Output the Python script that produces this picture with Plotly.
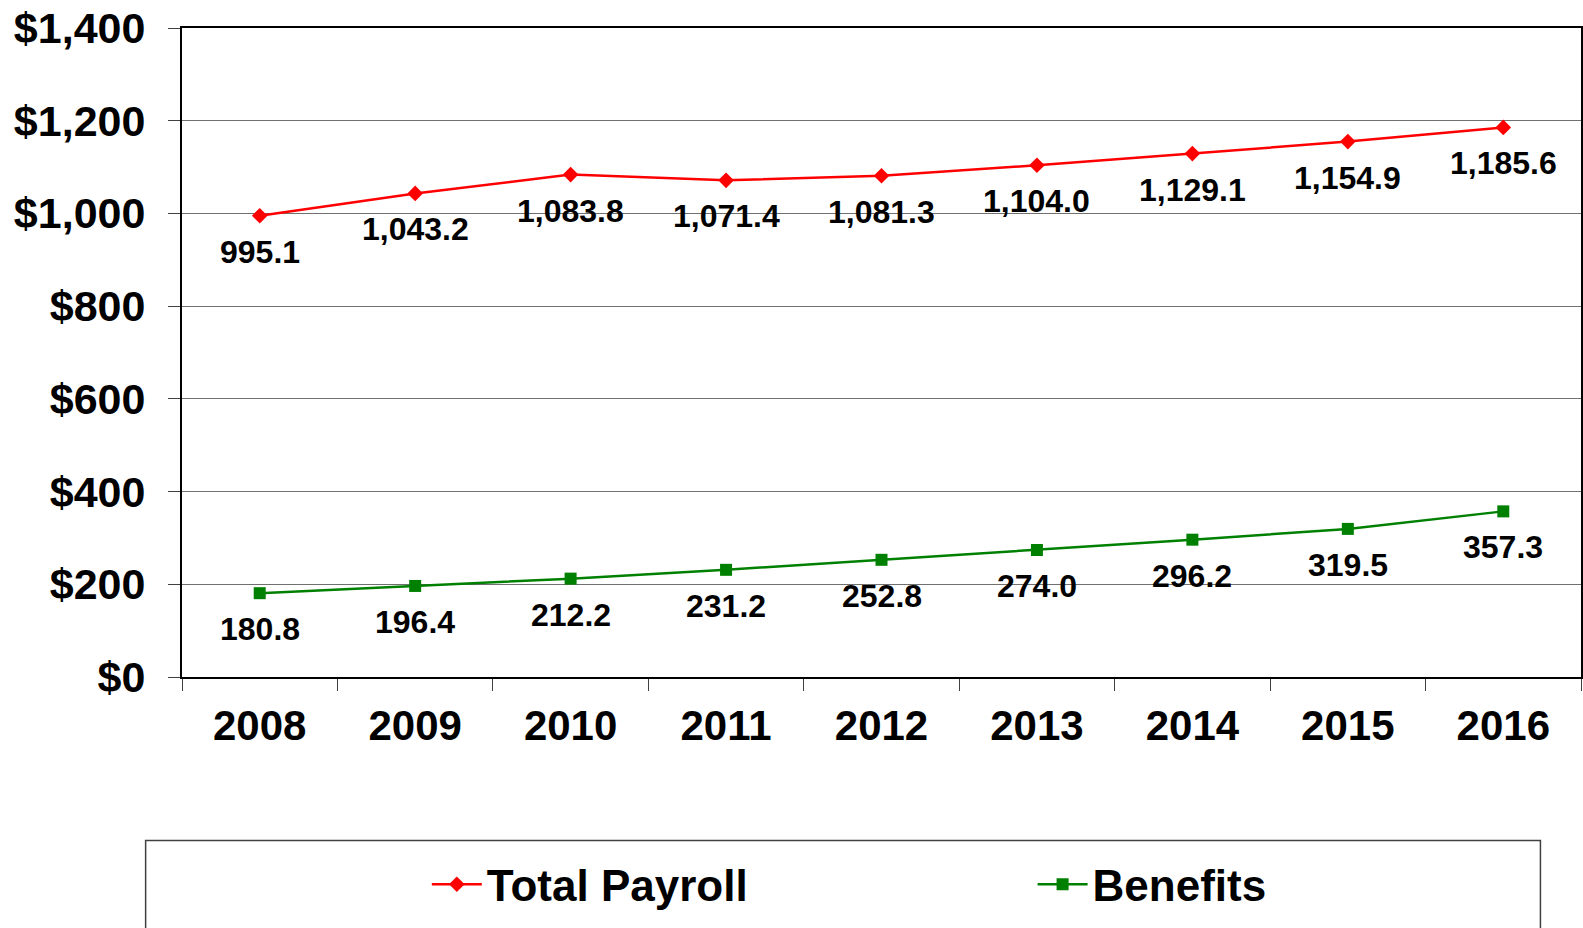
import plotly.graph_objects as go

# Values ($ millions)
years = ['2008', '2009', '2010', '2011', '2012', '2013', '2014', '2015', '2016']
total_payroll = [995.1, 1043.2, 1083.8, 1071.4, 1081.3, 1104.0, 1129.1, 1154.9, 1185.6]
benefits = [180.8, 196.4, 212.2, 231.2, 252.8, 274.0, 296.2, 319.5, 357.3]
y_ticks = [0, 200, 400, 600, 800, 1000, 1200, 1400]
y_tick_labels = ['$0', '$200', '$400', '$600', '$800', '$1,000', '$1,200', '$1,400']

FONT = 'Liberation Sans, Arial, sans-serif'
legend_font = dict(family=FONT, size=44, color='black', weight='bold')

fig = go.Figure()

fig.add_trace(go.Scatter(
    x=years, y=total_payroll, name='Total Payroll', mode='lines+markers',
    line=dict(color='#FF0000', width=2.5),
    marker=dict(symbol='diamond', size=12, color='#FF0000'),
    legend='legend'
))
fig.add_trace(go.Scatter(
    x=years, y=benefits, name='Benefits', mode='lines+markers',
    line=dict(color='#008000', width=2.5),
    marker=dict(symbol='square', size=12, color='#008000'),
    legend='legend2'
))

# Data labels sit a fixed distance under each point (x as category index)
for series in (total_payroll, benefits):
    for i, val in enumerate(series):
        fig.add_annotation(
            x=i, y=val, text=f'{val:,.1f}', showarrow=False, yshift=-36,
            font=dict(family=FONT, size=32, color='black', weight='bold')
        )

# Legend frame
fig.add_shape(
    type='rect', xref='paper', yref='paper',
    x0=-0.026, x1=0.971, y0=-0.252, y1=-0.45,
    line=dict(color='#404040', width=1.5), fillcolor='rgba(0,0,0,0)'
)

fig.update_layout(
    width=1583, height=928,
    margin=dict(l=182, r=2, t=28, b=250.5, autoexpand=False),
    paper_bgcolor='white', plot_bgcolor='white',
    font=dict(family=FONT, color='black'),
    showlegend=True,
    legend=dict(
        x=0.175, xanchor='left', y=-0.32, yanchor='middle',
        font=legend_font, itemwidth=50, bgcolor='rgba(0,0,0,0)'
    ),
    legend2=dict(
        x=0.608, xanchor='left', y=-0.32, yanchor='middle',
        font=legend_font, itemwidth=50, bgcolor='rgba(0,0,0,0)'
    ),
    xaxis=dict(
        type='category', range=[-0.5, 8.5],
        showline=True, linecolor='black', linewidth=2, mirror=True,
        ticks='outside', tickson='boundaries', ticklen=12, tickcolor='#404040',
        ticklabelstandoff=11, showgrid=False,
        tickfont=dict(family=FONT, size=42, color='black', weight='bold')
    ),
    yaxis=dict(
        range=[0, 1400], tickvals=y_ticks, ticktext=y_tick_labels,
        showline=True, linecolor='black', linewidth=2, mirror=True,
        ticks='outside', ticklen=12, tickcolor='#404040',
        ticklabelstandoff=14, ticklabeloverflow='allow',
        showgrid=True, gridcolor='#707070', gridwidth=1, zeroline=False,
        tickfont=dict(family=FONT, size=43, color='black', weight='bold')
    )
)

# drop the default page margin so the figure sits at the window's corner
fig.write_html("out.html", config={'displayModeBar': False},
               post_script="document.body.style.margin = '0';")
